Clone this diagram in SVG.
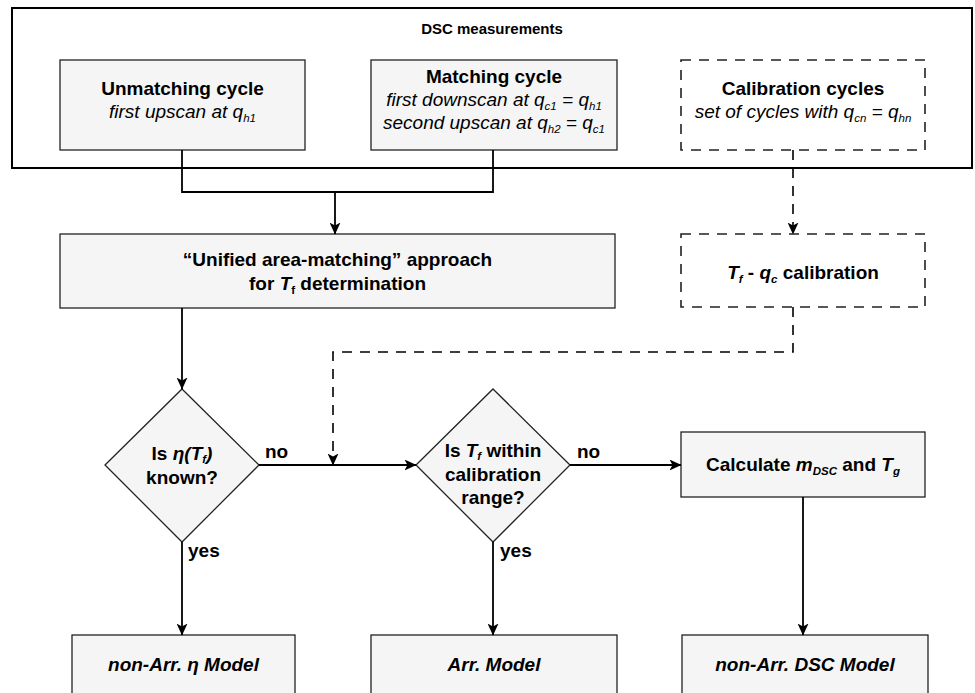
<svg xmlns="http://www.w3.org/2000/svg" width="975" height="693" viewBox="0 0 975 693">
<style>
text{font-family:"Liberation Sans",Arial,Helvetica,sans-serif;fill:#000;text-anchor:middle}
.b{font-weight:bold;font-size:19px}
.t{font-weight:bold;font-size:15px}
.i{font-style:italic;font-size:19px}
.bi{font-weight:bold;font-style:italic;font-size:19px}
.it{font-style:italic}
.sub{font-size:11.5px}
.lbl{font-weight:bold;font-size:19px;text-anchor:start}
.box{fill:#f5f5f5;stroke:#222;stroke-width:1.3}
.dbox{fill:#fff;stroke:#222;stroke-width:1.6;stroke-dasharray:10 8}
.ln{fill:none;stroke:#000;stroke-width:1.8}
.dl{fill:none;stroke:#000;stroke-width:1.6;stroke-dasharray:10 8}
</style>
<defs>
<marker id="arr" viewBox="0 0 12 11" refX="11.5" refY="5.5" markerWidth="12" markerHeight="11" markerUnits="userSpaceOnUse" orient="auto">
<path d="M0,0 L12,5.5 L0,11 L3,5.5 z" fill="#000"/>
</marker>
</defs>
<rect width="975" height="693" fill="#fff"/>

<g id="dsc-measurements">
<rect x="12" y="8" width="960" height="160" fill="#fff" stroke="#000" stroke-width="2"/>
<text class="t" x="492" y="34">DSC measurements</text>
</g>

<g id="unmatching-cycle">
<rect class="box" x="60" y="60" width="245" height="90"/>
<text class="b" x="182.5" y="95">Unmatching cycle</text>
<text class="i" x="182.5" y="118">first upscan at q<tspan class="sub" dy="4">h1</tspan></text>
</g>

<g id="matching-cycle">
<rect class="box" x="371" y="60" width="246" height="90"/>
<text class="b" x="494" y="83">Matching cycle</text>
<text class="i" x="494" y="106">first downscan at q<tspan class="sub" dy="4">c1</tspan><tspan dy="-4"> = q</tspan><tspan class="sub" dy="4">h1</tspan></text>
<text class="i" x="494" y="129">second upscan at q<tspan class="sub" dy="4">h2</tspan><tspan dy="-4"> = q</tspan><tspan class="sub" dy="4">c1</tspan></text>
</g>

<g id="calibration-cycles">
<rect class="dbox" x="681" y="60" width="244" height="90"/>
<text class="b" x="803" y="95">Calibration cycles</text>
<text class="i" x="803" y="118">set of cycles with q<tspan class="sub" dy="4">cn</tspan><tspan dy="-4"> = q</tspan><tspan class="sub" dy="4">hn</tspan></text>
</g>

<g id="unified-area-matching">
<rect class="box" x="60" y="234" width="555" height="74"/>
<text class="b" x="337.5" y="266">“Unified area-matching” approach</text>
<text class="b" x="337.5" y="290">for  <tspan class="it">T</tspan><tspan class="sub" dy="4">f</tspan><tspan dy="-4"> determination</tspan></text>
</g>

<g id="tf-qc-calibration">
<rect class="dbox" x="681" y="234" width="244" height="73"/>
<text class="b" x="803" y="279"><tspan class="it">T</tspan><tspan class="sub it" dy="4">f</tspan><tspan dy="-4"> - </tspan><tspan class="it">q</tspan><tspan class="sub it" dy="4">c</tspan><tspan dy="-4"> calibration</tspan></text>
</g>

<g id="eta-known">
<polygon class="box" points="182,389 259,465 182,542 105,465"/>
<text class="b" x="182" y="460">Is <tspan class="it">η(T</tspan><tspan class="sub it" dy="3">f</tspan><tspan class="it" dy="-3">)</tspan></text>
<text class="b" x="182" y="484">known?</text>
</g>

<g id="tf-within-range">
<polygon class="box" points="493,389 570,465 493,542 416,465"/>
<text class="b" x="493" y="457">Is <tspan class="it">T</tspan><tspan class="sub it" dy="3">f</tspan><tspan dy="-3"> within</tspan></text>
<text class="b" x="493" y="481">calibration</text>
<text class="b" x="493" y="504">range?</text>
</g>

<g id="calculate-mdsc-tg">
<rect class="box" x="681" y="432" width="244" height="65"/>
<text class="b" x="803" y="471">Calculate <tspan class="it">m</tspan><tspan class="sub it" dy="4">DSC</tspan><tspan dy="-4"> and </tspan><tspan class="it">T</tspan><tspan class="sub it" dy="4">g</tspan></text>
</g>

<g id="non-arr-eta-model">
<rect class="box" x="72" y="635" width="223" height="70"/>
<text class="bi" x="183.5" y="671">non-Arr. η Model</text>
</g>

<g id="arr-model">
<rect class="box" x="371" y="635" width="246" height="70"/>
<text class="bi" x="494" y="671">Arr. Model</text>
</g>

<g id="non-arr-dsc-model">
<rect class="box" x="682" y="635" width="246" height="70"/>
<text class="bi" x="805" y="671">non-Arr. DSC Model</text>
</g>

<g id="connectors">
<polyline class="ln" points="182,150 182,192 493,192 493,150"/>
<line class="ln" x1="335" y1="192" x2="335" y2="234" marker-end="url(#arr)"/>
<line class="dl" x1="793" y1="150" x2="793" y2="234" marker-end="url(#arr)"/>
<line class="ln" x1="182" y1="308" x2="182" y2="389" marker-end="url(#arr)"/>
<polyline class="dl" points="793,307 793,352 333,352 333,465" marker-end="url(#arr)"/>
<line class="ln" x1="259" y1="465" x2="416" y2="465" marker-end="url(#arr)"/>
<line class="ln" x1="570" y1="465" x2="681" y2="465" marker-end="url(#arr)"/>
<line class="ln" x1="182" y1="542" x2="182" y2="635" marker-end="url(#arr)"/>
<line class="ln" x1="493" y1="542" x2="493" y2="635" marker-end="url(#arr)"/>
<line class="ln" x1="803" y1="497" x2="803" y2="635" marker-end="url(#arr)"/>
<text class="lbl" x="265" y="458">no</text>
<text class="lbl" x="577" y="458">no</text>
<text class="lbl" x="188" y="557">yes</text>
<text class="lbl" x="500" y="557">yes</text>
</g>
</svg>
